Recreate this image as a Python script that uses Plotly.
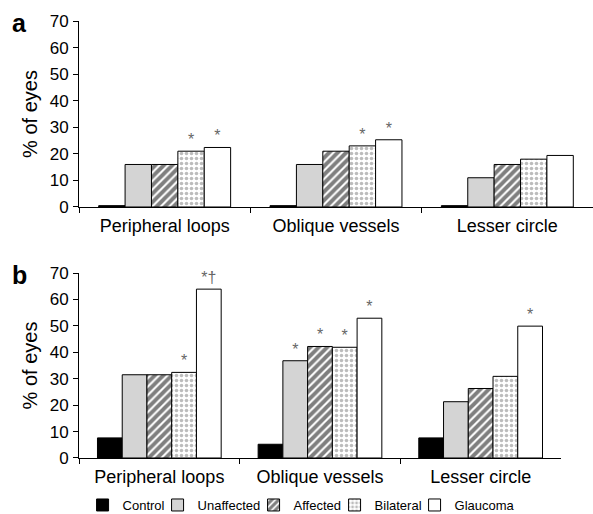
import plotly.graph_objects as go

categories = ["Peripheral loops", "Oblique vessels", "Lesser circle"]
groups = ["Control", "Unaffected", "Affected", "Bilateral", "Glaucoma"]

# Panel a values (% of eyes)
a_control = [0.5, 0.5, 0.5]
a_unaffected = [16, 16, 11]
a_affected = [16, 21, 16]
a_bilateral = [21, 23, 18]
a_glaucoma = [22.4, 25.3, 19.4]

# Panel b values (% of eyes)
b_control = [7.6, 5.2, 7.6]
b_unaffected = [31.5, 36.8, 21.3]
b_affected = [31.5, 42.2, 26.3]
b_bilateral = [32.4, 41.9, 30.9]
b_glaucoma = [63.9, 52.9, 49.9]

# Significance markers
a_sig = {
    "Control": ["", "", ""],
    "Unaffected": ["", "", ""],
    "Affected": ["", "", ""],
    "Bilateral": ["*", "*", ""],
    "Glaucoma": ["*", "*", ""],
}
b_sig = {
    "Control": ["", "", ""],
    "Unaffected": ["", "*", ""],
    "Affected": ["", "*", ""],
    "Bilateral": ["*", "*", ""],
    "Glaucoma": ["*†", "*", "*"],
}

y_ticks = [0, 10, 20, 30, 40, 50, 60, 70]

a_vals = dict(zip(groups, [a_control, a_unaffected, a_affected, a_bilateral, a_glaucoma]))
b_vals = dict(zip(groups, [b_control, b_unaffected, b_affected, b_bilateral, b_glaucoma]))

styles = {
    "Control": dict(color="black"),
    "Unaffected": dict(color="#d4d4d4"),
    "Affected": dict(color="white", pattern=dict(shape="/", fgcolor="black", bgcolor="white",
                                                   size=6, solidity=0.65, fillmode="overlay")),
    "Bilateral": dict(color="white", pattern=dict(shape=".", fgcolor="#7a7a7a", bgcolor="white",
                                                    size=5, solidity=0.4, fillmode="overlay")),
    "Glaucoma": dict(color="white"),
}
# compact legend entry widths (px)
legend_widths = {"Control": 30, "Unaffected": 51, "Affected": 36, "Bilateral": 35, "Glaucoma": 62}

FONT = "Liberation Sans, Arial, Helvetica, sans-serif"

fig = go.Figure()
for panel, vals, sig, xa, ya in [("a", a_vals, a_sig, "x", "y"), ("b", b_vals, b_sig, "x2", "y2")]:
    for g in groups:
        fig.add_trace(go.Bar(
            x=categories, y=vals[g], name=g,
            text=sig[g], textposition="outside", cliponaxis=False,
            constraintext="none",
            textfont=dict(color="#666666", size=16, family=FONT),
            marker=dict(line=dict(color="black", width=1), **styles[g]),
            xaxis=xa, yaxis=ya, legendgroup=g, showlegend=(panel == "b"),
            legendwidth=legend_widths[g],
            hoverinfo="skip",
        ))

axis_common = dict(showline=True, linecolor="black", linewidth=1, ticks="outside",
                   tickcolor="black", ticklen=5, showgrid=False, zeroline=False,
                   automargin=False)
xfont = dict(size=18, family=FONT, color="black")
yfont = dict(size=17, family=FONT, color="black")

fig.update_layout(
    width=593, height=514,
    margin=dict(l=79, r=0, t=21, b=56, autoexpand=False),
    paper_bgcolor="white", plot_bgcolor="white",
    barmode="group", bargap=0.23, bargroupgap=0,
    font=dict(family=FONT, color="black"),
    xaxis=dict(domain=[0, 1], anchor="y", tickson="boundaries", tickfont=xfont,
               ticklabelstandoff=2, **axis_common),
    yaxis=dict(domain=[0.5744, 1], anchor="x", range=[0, 70], tickvals=y_ticks,
               ticklabelstandoff=1, tickfont=yfont,
               title=dict(text="% of eyes", font=dict(size=20, family=FONT), standoff=6),
               **axis_common),
    xaxis2=dict(domain=[0, 0.9377], anchor="y2", tickson="boundaries", tickfont=xfont,
                ticklabelstandoff=2, **axis_common),
    yaxis2=dict(domain=[0, 0.4233], anchor="x2", range=[0, 70], tickvals=y_ticks,
                ticklabelstandoff=1, tickfont=yfont,
                title=dict(text="% of eyes", font=dict(size=20, family=FONT), standoff=6),
                **axis_common),
    legend=dict(orientation="h", x=0.434, xanchor="center", y=-0.1076, yanchor="middle",
                font=dict(size=13, family=FONT), itemwidth=30, traceorder="normal"),
    annotations=[
        dict(text="<b>a</b>", xref="paper", yref="paper", x=-0.115, y=0.995,
             xanchor="center", yanchor="middle", showarrow=False, font=dict(size=25, family=FONT)),
        dict(text="<b>b</b>", xref="paper", yref="paper", x=-0.115, y=0.419,
             xanchor="center", yanchor="middle", showarrow=False, font=dict(size=25, family=FONT)),
    ],
)

fig.write_html("out.html", config={"displayModeBar": False},
               post_script="document.body.style.margin='0';document.body.style.overflow='hidden';")
